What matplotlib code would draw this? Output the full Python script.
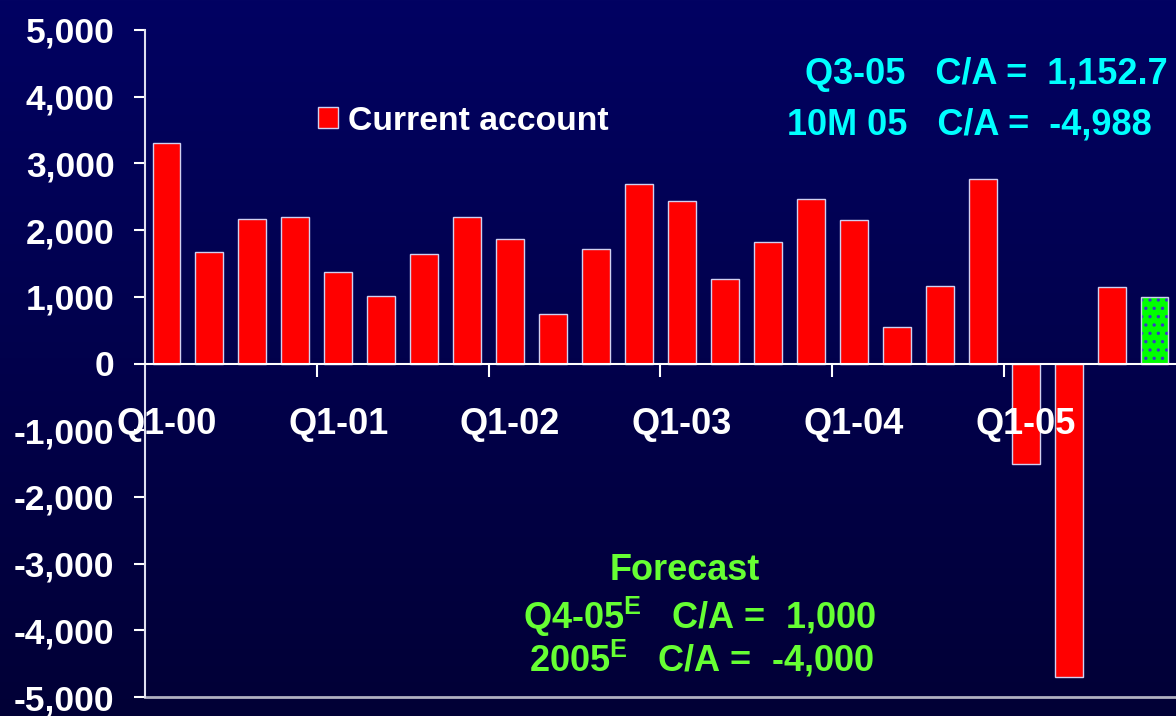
import numpy as np
import matplotlib.pyplot as plt
from matplotlib.colors import LinearSegmentedColormap

plt.rcParams['font.family'] = ['Liberation Sans', 'DejaVu Sans']
plt.rcParams['font.weight'] = 'bold'
plt.rcParams['mathtext.fontset'] = 'custom'
plt.rcParams['mathtext.rm'] = 'Liberation Sans:bold'
plt.rcParams['mathtext.bf'] = 'Liberation Sans:bold'
plt.rcParams['hatch.linewidth'] = 1.2

# quarterly current account, Q1-00 .. Q4-05 (last one is a forecast)
quarters = ['Q1-00', 'Q2-00', 'Q3-00', 'Q4-00',
            'Q1-01', 'Q2-01', 'Q3-01', 'Q4-01',
            'Q1-02', 'Q2-02', 'Q3-02', 'Q4-02',
            'Q1-03', 'Q2-03', 'Q3-03', 'Q4-03',
            'Q1-04', 'Q2-04', 'Q3-04', 'Q4-04',
            'Q1-05', 'Q2-05', 'Q3-05', 'Q4-05']
current_account = [3300, 1670, 2170, 2200,
                   1370, 1010, 1640, 2200,
                   1870, 740, 1720, 2690,
                   2440, 1270, 1820, 2470,
                   2150, 550, 1160, 2770,
                   -1500, -4700, 1152.7]
forecast = [1000]
labeled = ['Q1-00', 'Q1-01', 'Q1-02', 'Q1-03', 'Q1-04', 'Q1-05']

fig = plt.figure(figsize=(11.76, 7.16), dpi=100)

# gradient background
bg = fig.add_axes([0, 0, 1, 1], zorder=-10)
grad = np.linspace(0, 1, 256).reshape(-1, 1)
cmap = LinearSegmentedColormap.from_list('bg', ['#020262', '#010036'])
bg.imshow(grad, aspect='auto', cmap=cmap, extent=[0, 1, 0, 1])
bg.axis('off')

ax = fig.add_axes([145 / 1176, 1 - 697 / 716, 1 - 145 / 1176, (697 - 30) / 716])
ax.set_facecolor('none')

x = np.arange(len(quarters))
n_act = len(current_account)
edge = '#d0d0f0'
ax.bar(x[:n_act], current_account, width=0.65, color='#ff0000', edgecolor=edge,
       linewidth=1, label='Current account', zorder=1)
ax.bar(x[n_act:], forecast, width=0.65, color='#00ff00', edgecolor='#3838c8',
       hatch='..', linewidth=0, zorder=1)
ax.bar(x[n_act:], forecast, width=0.65, fill=False, edgecolor=edge,
       linewidth=1, zorder=1.5)

ax.set_xlim(-0.5, len(quarters) - 0.5)
ax.set_ylim(-5000, 5000)
ax.set_yticks(np.arange(-5000, 5001, 1000))
ax.yaxis.set_major_formatter(plt.FuncFormatter(lambda v, p: f'{v:,.0f}'))
ax.tick_params(axis='y', colors='white', labelsize=25.5, length=8, width=1.5, pad=14)
for t in ax.get_yticklabels():
    t.set_fontweight('bold')

# category axis sits on the zero line
ax.spines['bottom'].set_position(('data', 0))
ax.spines['bottom'].set_color('white')
ax.spines['bottom'].set_linewidth(1.5)
ax.spines['left'].set_color('#e0e0f0')
ax.spines['left'].set_linewidth(1.5)
ax.spines['top'].set_visible(False)
ax.spines['right'].set_visible(False)
ax.axhline(-5000, color='#b0b0c0', linewidth=2, clip_on=False)

idx = [quarters.index(q) for q in labeled]
ax.set_xticks([i - 0.5 for i in idx[1:]])
ax.set_xticklabels([])
ax.tick_params(axis='x', which='major', colors='white', length=9, width=1.5, direction='out')
ax.set_xticks(idx, minor=True)
ax.set_xticklabels(labeled, minor=True)
ax.tick_params(axis='x', which='minor', colors='white', length=0, labelsize=26, pad=31)
for t in ax.get_xticklabels(minor=True):
    t.set_fontweight('bold')

leg = fig.legend(loc='center left', bbox_to_anchor=(318 / 1176, 1 - 121 / 716),
                 frameon=False, fontsize=24.3, handlelength=0.6, handleheight=0.6,
                 handletextpad=0.3, borderpad=0, borderaxespad=0)
for t in leg.get_texts():
    t.set_color('white')
    t.set_fontweight('bold')

cyan = '#00ffff'
fig.text(1168 / 1176, 1 - 75 / 716, 'Q3-05   C/A =  1,152.7', color=cyan,
         fontsize=26, fontweight='bold', ha='right', va='center')
fig.text(1152 / 1176, 1 - 125 / 716, '10M 05   C/A =  -4,988', color=cyan,
         fontsize=26, fontweight='bold', ha='right', va='center')

green = '#66ff33'
fig.text(685 / 1176, 1 - 570 / 716, 'Forecast', color=green,
         fontsize=26, fontweight='bold', ha='center', va='center')
fig.text(700 / 1176, 1 - 617 / 716, r'Q4-05$^{\mathrm{E}}$   C/A =  1,000', color=green,
         fontsize=26, fontweight='bold', ha='center', va='center')
fig.text(702 / 1176, 1 - 659 / 716, r'2005$^{\mathrm{E}}$   C/A =  -4,000', color=green,
         fontsize=26, fontweight='bold', ha='center', va='center')

fig.savefig('out.png', dpi=100)
